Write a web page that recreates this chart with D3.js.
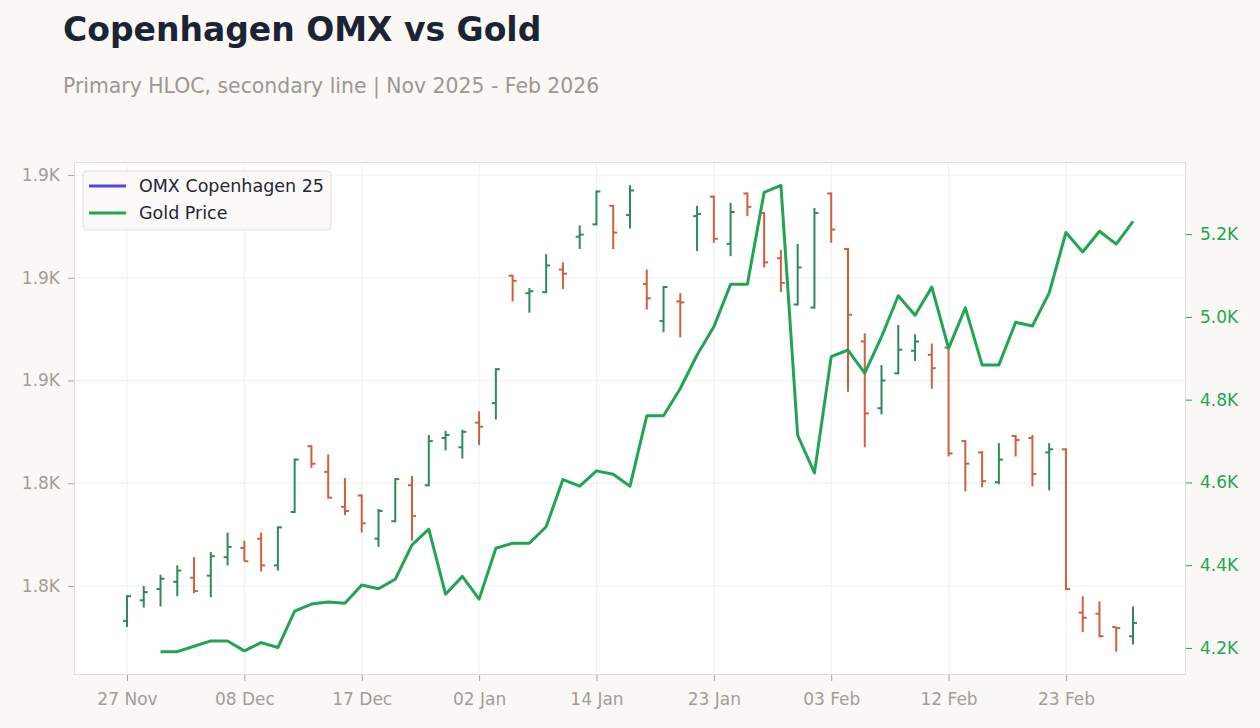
<!DOCTYPE html>
<html>
<head>
<meta charset="utf-8">
<script src="https://cdn.jsdelivr.net/npm/d3@7"></script>
<style>
	body { margin: 0; background: #f9f8f5; }
	svg { display: block; font-family: "DejaVu Sans", sans-serif; }
</style>
</head>
<body>
<div id="chart"></div>
<script>
var dates = [
	'2025-11-27', '2025-11-28', '2025-12-01', '2025-12-02', '2025-12-03', '2025-12-04', '2025-12-05',
	'2025-12-08', '2025-12-09', '2025-12-10', '2025-12-11', '2025-12-12', '2025-12-15', '2025-12-16',
	'2025-12-17', '2025-12-18', '2025-12-19', '2025-12-22', '2025-12-23', '2025-12-29', '2025-12-30',
	'2026-01-02', '2026-01-05', '2026-01-07', '2026-01-08', '2026-01-09', '2026-01-12', '2026-01-13',
	'2026-01-14', '2026-01-15', '2026-01-16', '2026-01-19', '2026-01-20', '2026-01-21', '2026-01-22',
	'2026-01-23', '2026-01-26', '2026-01-27', '2026-01-28', '2026-01-29', '2026-01-30', '2026-02-02',
	'2026-02-03', '2026-02-04', '2026-02-05', '2026-02-06', '2026-02-09', '2026-02-10', '2026-02-11',
	'2026-02-12', '2026-02-13', '2026-02-16', '2026-02-17', '2026-02-18', '2026-02-19', '2026-02-20',
	'2026-02-23', '2026-02-24', '2026-02-25', '2026-02-26', '2026-02-27'
];

var omxOpen = [
	1826.6, 1828.6, 1829.7, 1830.4, 1830.8, 1831.0, 1832.8, 1833.7, 1834.6, 1832.0,
	1837.2, 1843.6, 1841.1, 1837.7, 1838.8, 1834.6, 1836.3, 1839.8, 1839.8, 1844.4,
	1843.5, 1845.9, 1847.8, 1860.2, 1858.5, 1858.6, 1860.8, 1864.0, 1865.2, 1867.0,
	1866.1, 1859.4, 1855.8, 1857.7, 1866.0, 1867.9, 1863.3, 1868.2, 1866.3, 1861.9,
	1857.4, 1857.1, 1868.2, 1862.8, 1853.8, 1847.3, 1850.7, 1852.9, 1852.5, 1853.2,
	1844.1, 1843.0, 1840.1, 1844.6, 1844.4, 1843.0, 1843.3, 1827.4, 1827.3, 1826.0,
	1825.1
];
var omxHigh = [
	1829.1, 1830.0, 1831.1, 1832.0, 1832.8, 1833.3, 1835.2, 1834.4, 1835.2, 1835.8,
	1842.4, 1843.7, 1842.8, 1840.5, 1838.9, 1837.5, 1840.5, 1840.7, 1844.7, 1845.1,
	1845.2, 1847.0, 1851.2, 1860.3, 1859.0, 1862.3, 1861.5, 1865.1, 1868.5, 1867.1,
	1869.0, 1860.8, 1859.2, 1858.5, 1867.0, 1868.0, 1867.3, 1868.3, 1866.4, 1862.7,
	1863.3, 1866.8, 1868.3, 1862.9, 1854.6, 1851.5, 1855.4, 1854.5, 1853.6, 1853.3,
	1844.2, 1843.1, 1843.9, 1844.7, 1844.7, 1843.9, 1843.4, 1829.0, 1828.5, 1826.0,
	1828.0
];
var omxLow = [
	1826.0, 1827.9, 1828.0, 1829.0, 1829.3, 1828.9, 1832.0, 1832.4, 1831.4, 1831.5,
	1837.1, 1841.5, 1838.5, 1836.9, 1835.2, 1833.8, 1836.2, 1834.4, 1839.7, 1843.2,
	1842.4, 1843.7, 1846.2, 1857.7, 1856.6, 1858.5, 1858.9, 1862.8, 1865.1, 1862.8,
	1864.8, 1856.9, 1854.7, 1854.2, 1862.6, 1863.4, 1862.1, 1866.0, 1861.0, 1858.6,
	1857.3, 1857.0, 1863.4, 1848.9, 1843.5, 1846.7, 1850.6, 1851.9, 1849.2, 1842.6,
	1839.2, 1839.6, 1839.9, 1842.6, 1839.7, 1839.3, 1829.6, 1825.5, 1825.0, 1823.6,
	1824.3
];
var omxClose = [
	1829.0, 1829.4, 1830.7, 1831.5, 1829.5, 1832.9, 1833.8, 1832.4, 1832.0, 1835.7,
	1842.3, 1841.9, 1838.6, 1837.3, 1836.1, 1837.3, 1840.4, 1836.8, 1844.1, 1844.7,
	1845.0, 1845.5, 1851.1, 1859.7, 1858.7, 1861.2, 1860.4, 1864.2, 1868.4, 1864.4,
	1868.5, 1858.0, 1859.1, 1857.6, 1866.2, 1863.8, 1866.4, 1866.9, 1861.5, 1859.5,
	1861.0, 1866.3, 1864.7, 1856.4, 1846.8, 1850.0, 1853.0, 1853.8, 1851.2, 1842.9,
	1841.9, 1840.2, 1842.3, 1844.2, 1840.9, 1843.3, 1829.7, 1826.9, 1825.1, 1825.9,
	1826.4
];
var goldPrice = [
	null, null, 4191, 4191, 4204, 4217, 4217, 4193, 4213, 4201,
	4289, 4306, 4311, 4308, 4352, 4343, 4366, 4449, 4487, 4330,
	4373, 4318, 4441, 4453, 4453, 4493, 4607, 4591, 4628, 4620,
	4591, 4761, 4761, 4827, 4908, 4976, 5079, 5079, 5301, 5318,
	4714, 4623, 4904, 4920, 4864, 4952, 5051, 5004, 5072, 4924,
	5022, 4884, 4884, 4987, 4978, 5058, 5204, 5157, 5207, 5176,
	5231
];

var seriesNames = ['OMX Copenhagen 25', 'Gold Price'];
var tickEvery = 7;

var width = 1260,
	height = 728,
	margin = { top: 162, right: 74, bottom: 53, left: 74 };

var upColor = '#2e8b57',
	downColor = '#d0603c',
	goldColor = '#22a552',
	omxColor = '#4f46e5',
	labelColor = '#a29d97';

var parseDate = d3.timeParse('%Y-%m-%d'),
	fmtDate = d3.timeFormat('%d %b'),
	fmtK = function(v) { return d3.format('.2s')(v).replace('k', 'K'); };

var bars = dates.map(function(d, i) {
	return {
		'date': d,
		'open': omxOpen[i],
		'high': omxHigh[i],
		'low': omxLow[i],
		'close': omxClose[i],
		'gold': goldPrice[i]
	};
});

var svg = d3.select('#chart')
	.append('svg')
	.attr('width', width)
	.attr('height', height);

svg.append('text')
	.attr('x', 63)
	.attr('y', 41)
	.style('font-size', '33px')
	.style('font-weight', 'bold')
	.style('fill', '#1c2433')
	.text('Copenhagen OMX vs Gold');

svg.append('text')
	.attr('x', 63)
	.attr('y', 93)
	.style('font-size', '20.4px')
	.style('fill', '#9c9792')
	.text('Primary HLOC, secondary line | Nov 2025 - Feb 2026');

var x = d3.scalePoint()
	.domain(dates)
	.range([margin.left, width - margin.right])
	.padding(3.16);

function padded(lo, hi) {
	var pad = (hi - lo) * 0.05;
	return [lo - pad, hi + pad];
}

var y = d3.scaleLinear()
	.domain(padded(d3.min(omxLow), d3.max(omxHigh)))
	.range([height - margin.bottom, margin.top]);

var y2 = d3.scaleLinear()
	.domain(padded(d3.min(goldPrice.filter(function(v) { return v !== null; })), d3.max(goldPrice)))
	.range([height - margin.bottom, margin.top]);

// plot background
svg.append('rect')
	.attr('x', margin.left)
	.attr('y', margin.top)
	.attr('width', width - margin.left - margin.right)
	.attr('height', height - margin.top - margin.bottom)
	.style('fill', '#ffffff');

var tickDates = dates.filter(function(d, i) { return i % tickEvery === 0; });

// grid
svg.append('g')
	.selectAll('line')
	.data(y.ticks(5))
	.enter()
	.append('line')
	.attr('x1', margin.left)
	.attr('x2', width - margin.right)
	.attr('y1', function(d) { return y(d); })
	.attr('y2', function(d) { return y(d); })
	.style('stroke', '#efefef');

svg.append('g')
	.selectAll('line')
	.data(tickDates)
	.enter()
	.append('line')
	.attr('x1', function(d) { return x(d); })
	.attr('x2', function(d) { return x(d); })
	.attr('y1', margin.top)
	.attr('y2', height - margin.bottom)
	.style('stroke', '#efefef');

// HLOC bars
var bar = svg.append('g')
	.selectAll('g')
	.data(bars)
	.enter()
	.append('g')
	.style('stroke', function(d) { return d.close >= d.open ? upColor : downColor; })
	.style('stroke-width', 2);

bar.append('line')
	.attr('x1', function(d) { return x(d.date); })
	.attr('x2', function(d) { return x(d.date); })
	.attr('y1', function(d) { return y(d.high); })
	.attr('y2', function(d) { return y(d.low); });

bar.append('line')
	.attr('x1', function(d) { return x(d.date) - 4; })
	.attr('x2', function(d) { return x(d.date); })
	.attr('y1', function(d) { return y(d.open); })
	.attr('y2', function(d) { return y(d.open); });

bar.append('line')
	.attr('x1', function(d) { return x(d.date); })
	.attr('x2', function(d) { return x(d.date) + 4; })
	.attr('y1', function(d) { return y(d.close); })
	.attr('y2', function(d) { return y(d.close); });

// gold line
var goldLine = d3.line()
	.defined(function(d) { return d.gold !== null; })
	.x(function(d) { return x(d.date); })
	.y(function(d) { return y2(d.gold); });

svg.append('path')
	.datum(bars)
	.attr('d', goldLine)
	.style('fill', 'none')
	.style('stroke', goldColor)
	.style('stroke-width', 3)
	.style('stroke-linejoin', 'round');

// frame
svg.append('rect')
	.attr('x', margin.left + 0.5)
	.attr('y', margin.top + 0.5)
	.attr('width', width - margin.left - margin.right - 1)
	.attr('height', height - margin.top - margin.bottom - 1)
	.style('fill', 'none')
	.style('stroke', '#e3ded7');

// axes
var xAxis = svg.append('g')
	.attr('transform', 'translate(0,' + (height - margin.bottom) + ')')
	.call(d3.axisBottom(x).tickValues(tickDates).tickSize(6).tickPadding(12)
		.tickFormat(function(d) { return fmtDate(parseDate(d)); }));

var yAxis = svg.append('g')
	.attr('transform', 'translate(' + margin.left + ',0)')
	.call(d3.axisLeft(y).ticks(5).tickSize(6).tickPadding(8).tickFormat(fmtK));

var y2Axis = svg.append('g')
	.attr('transform', 'translate(' + (width - margin.right) + ',0)')
	.call(d3.axisRight(y2).ticks(5).tickSize(6).tickPadding(8).tickFormat(fmtK));

[xAxis, yAxis, y2Axis].forEach(function(a) {
	a.select('.domain').remove();
	a.selectAll('.tick line').style('stroke', '#a8a39d');
	a.selectAll('.tick text')
		.style('font-size', '17px')
		.style('font-family', '"DejaVu Sans", sans-serif')
		.style('fill', labelColor);
});
y2Axis.selectAll('.tick text').style('fill', goldColor);
y2Axis.selectAll('.tick line').style('stroke', goldColor);

// legend
var legend = svg.append('g')
	.attr('transform', 'translate(83,171)');

legend.append('rect')
	.attr('width', 248)
	.attr('height', 59)
	.attr('rx', 4)
	.style('fill', '#faf9f7')
	.style('fill-opacity', 0.95)
	.style('stroke', '#e3ded7');

var legendItem = legend.selectAll('g')
	.data(seriesNames)
	.enter()
	.append('g')
	.attr('transform', function(d, i) { return 'translate(0,' + (15 + i * 27) + ')'; });

legendItem.append('line')
	.attr('x1', 6)
	.attr('x2', 43)
	.style('stroke', function(d, i) { return i === 0 ? omxColor : goldColor; })
	.style('stroke-width', 3);

legendItem.append('text')
	.attr('x', 56)
	.attr('dy', '0.35em')
	.style('font-size', '17.5px')
	.style('fill', '#1f2633')
	.text(function(d) { return d; });
</script>
</body>
</html>
